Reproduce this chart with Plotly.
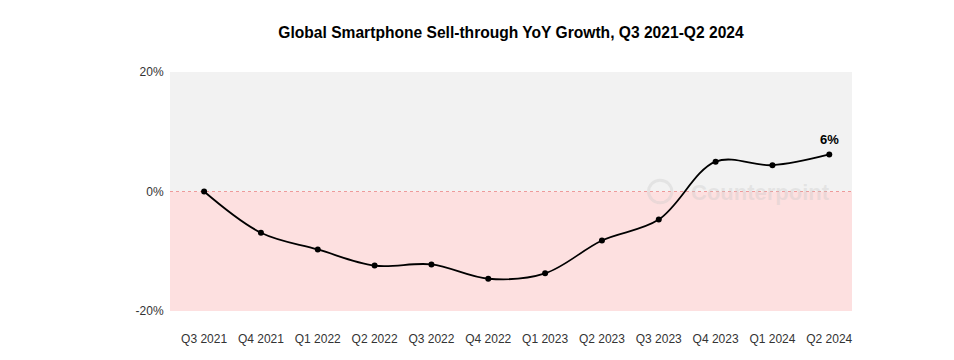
import plotly.graph_objects as go

quarters = ["Q3 2021", "Q4 2021", "Q1 2022", "Q2 2022", "Q3 2022", "Q4 2022",
            "Q1 2023", "Q2 2023", "Q3 2023", "Q4 2023", "Q1 2024", "Q2 2024"]
growth = [0.0, -6.9, -9.7, -12.4, -12.2, -14.6, -13.7, -8.2, -4.7, 5.0, 4.4, 6.2]
y_ticks = [-20, 0, 20]
y_tick_labels = ["-20%", "0%", "20%"]
last_label = "6%"

x_idx = list(range(len(quarters)))
FONT = "Liberation Sans, Arial, sans-serif"

fig = go.Figure()
fig.add_shape(type="rect", xref="paper", yref="y", x0=0, x1=1, y0=0, y1=20,
              fillcolor="#f2f2f2", line_width=0, layer="below")
fig.add_shape(type="rect", xref="paper", yref="y", x0=0, x1=1, y0=-20, y1=0,
              fillcolor="#fde0e0", line_width=0, layer="below")
fig.add_shape(type="line", xref="paper", yref="y", x0=0, x1=1, y0=0, y1=0,
              line=dict(color="#ee9a9a", width=1, dash="dot"), layer="below")

# faint watermark
fig.add_shape(type="circle", xref="x", yref="y", x0=7.82, x1=8.23, y0=-1.9, y1=1.9,
              line=dict(color="rgba(200,200,200,0.35)", width=3), layer="below")
fig.add_annotation(x=8.53, y=-0.1, xref="x", yref="y", text="<b>Counterpoint</b>",
                   showarrow=False, font=dict(family=FONT, size=22, color="rgba(200,200,200,0.35)"),
                   xanchor="left", yanchor="middle")

fig.add_trace(go.Scatter(
    x=x_idx, y=growth, mode="lines+markers",
    line=dict(color="black", width=1.8, shape="spline", smoothing=1.0),
    marker=dict(color="black", size=6),
    hoverinfo="skip", showlegend=False,
))

fig.add_annotation(x=x_idx[-1], y=growth[-1], text="<b>" + last_label + "</b>", showarrow=False,
                   yshift=15, font=dict(family=FONT, size=13, color="black"))

fig.update_layout(
    width=954, height=360,
    margin=dict(l=162, r=110, t=64, b=57),
    paper_bgcolor="white", plot_bgcolor="white",
    title=dict(text="<b>Global Smartphone Sell-through YoY Growth, Q3 2021-Q2 2024</b>",
               x=0.5, xref="paper", y=0.933, yanchor="middle",
               font=dict(family=FONT, size=15.6, color="black")),
    font=dict(family=FONT, size=12, color="#333"),
)
fig.update_xaxes(range=[-0.6, 11.4], tickmode="array", tickvals=x_idx, ticktext=quarters,
                 showgrid=False, zeroline=False, showline=False,
                 ticks="outside", ticklen=17, tickcolor="rgba(0,0,0,0)",
                 tickfont=dict(size=12, color="#333"))
fig.update_yaxes(range=[-20, 20], tickmode="array", tickvals=y_ticks, ticktext=y_tick_labels,
                 showgrid=False, zeroline=False, showline=False,
                 ticks="outside", ticklen=3, tickcolor="rgba(0,0,0,0)",
                 tickfont=dict(size=12, color="#333"))

fig.write_html("out.html")
